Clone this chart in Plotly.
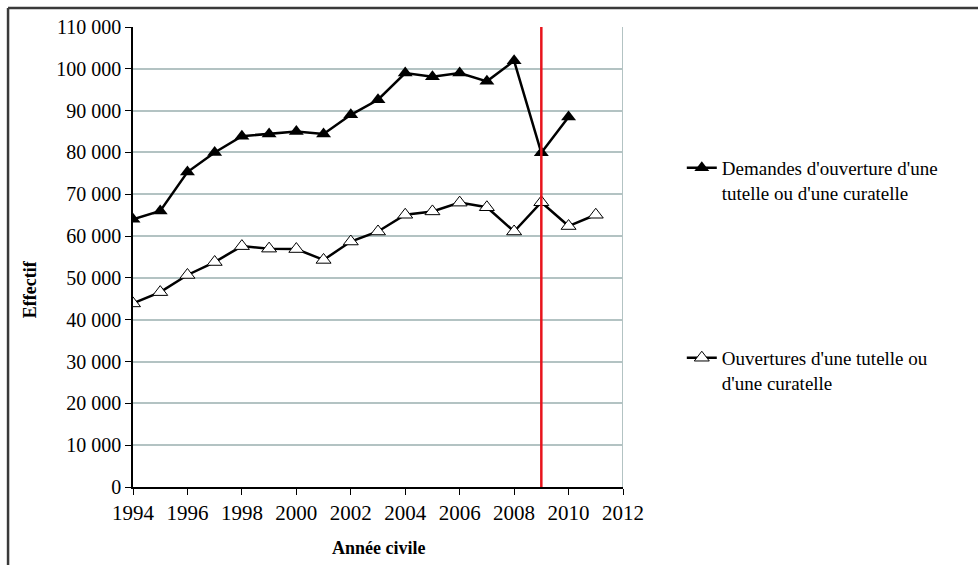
import plotly.graph_objects as go

# Data: guardianship / curatorship statistics by calendar year
years = [1994, 1995, 1996, 1997, 1998, 1999, 2000, 2001, 2002, 2003,
         2004, 2005, 2006, 2007, 2008, 2009, 2010, 2011]
demandes = [64000, 66000, 75300, 80000, 83900, 84400, 85000, 84400, 89000, 92600,
            99000, 98100, 99000, 97000, 101900, 79900, 88500, None]
ouvertures = [43900, 46600, 50700, 53800, 57600, 57000, 56900, 54300, 58700, 61100,
              65100, 65900, 68000, 66900, 61100, 68100, 62400, 65100]

name_demandes = "Demandes d'ouverture d'une<br>tutelle ou d'une curatelle"
name_ouvertures = "Ouvertures d'une tutelle ou<br>d'une curatelle"
x_ticks = list(range(1994, 2013, 2))
y_ticks = list(range(0, 110001, 10000))
marker_year = 2009

FONT = "Liberation Serif, Times New Roman, serif"
GRID = "#b3c3c3"

fig = go.Figure()

fig.add_trace(go.Scatter(
    x=years, y=demandes, name=name_demandes, mode="lines+markers",
    line=dict(color="black", width=2.5),
    marker=dict(symbol="triangle-up", size=13, color="black"),
    legend="legend",
))
fig.add_trace(go.Scatter(
    x=years, y=ouvertures, name=name_ouvertures, mode="lines+markers",
    line=dict(color="black", width=2.5),
    marker=dict(symbol="triangle-up", size=13, color="white",
                line=dict(color="black", width=1)),
    legend="legend2",
))

# Vertical reference line at 2009
fig.add_shape(type="line", xref="x", yref="y", x0=marker_year, x1=marker_year,
              y0=0, y1=110000, line=dict(color="#e8141c", width=2.5), layer="above")
# Right border of the plot area
fig.add_shape(type="line", xref="x", yref="y", x0=2012, x1=2012, y0=0, y1=110000,
              line=dict(color=GRID, width=2), layer="below")
# Outer chart frame (top and left edges)
fig.add_shape(type="line", xref="paper", yref="paper", x0=-0.255, x1=1.9,
              y0=1.0413, y1=1.0413, line=dict(color="#3a3a3a", width=2.5))
fig.add_shape(type="line", xref="paper", yref="paper", x0=-0.255, x1=-0.255,
              y0=1.0413, y1=-0.3, line=dict(color="#3a3a3a", width=2.5))

fig.add_annotation(text="<b>Effectif</b>", xref="paper", yref="paper",
                   x=-0.21, y=0.43, xanchor="center", yanchor="middle",
                   textangle=-90, showarrow=False,
                   font=dict(family=FONT, size=18, color="black"))
fig.add_annotation(text="<b>Année civile</b>", xref="paper", yref="paper",
                   x=0.5, y=-0.133, xanchor="center", yanchor="middle",
                   showarrow=False,
                   font=dict(family=FONT, size=18, color="black"))

fig.update_layout(
    width=978, height=565,
    margin=dict(l=133, r=355, t=27, b=78),
    paper_bgcolor="white", plot_bgcolor="white",
    separators=". ",
    font=dict(family=FONT, size=20, color="black"),
    showlegend=True,
    legend=dict(x=1.12, y=0.735, xanchor="left", yanchor="top",
                bgcolor="rgba(0,0,0,0)", valign="top",
                font=dict(family=FONT, size=19, color="black")),
    legend2=dict(x=1.12, y=0.322, xanchor="left", yanchor="top",
                 bgcolor="rgba(0,0,0,0)", valign="top",
                 font=dict(family=FONT, size=19, color="black")),
)
fig.update_xaxes(
    range=[1994, 2012], tickvals=x_ticks, showgrid=False, zeroline=False,
    showline=True, linecolor="black", linewidth=1.5,
    ticks="outside", ticklen=6, tickcolor="black",
    tickfont=dict(family=FONT, size=21, color="black"),
)
fig.update_yaxes(
    range=[0, 110000], tickvals=y_ticks, tickformat=",d",
    showgrid=True, gridcolor=GRID, gridwidth=1.5, zeroline=False,
    showline=True, linecolor="black", linewidth=1.5,
    ticks="outside", ticklen=6, tickcolor="black",
    tickfont=dict(family=FONT, size=20, color="black"),
)

fig.write_html("out.html")
